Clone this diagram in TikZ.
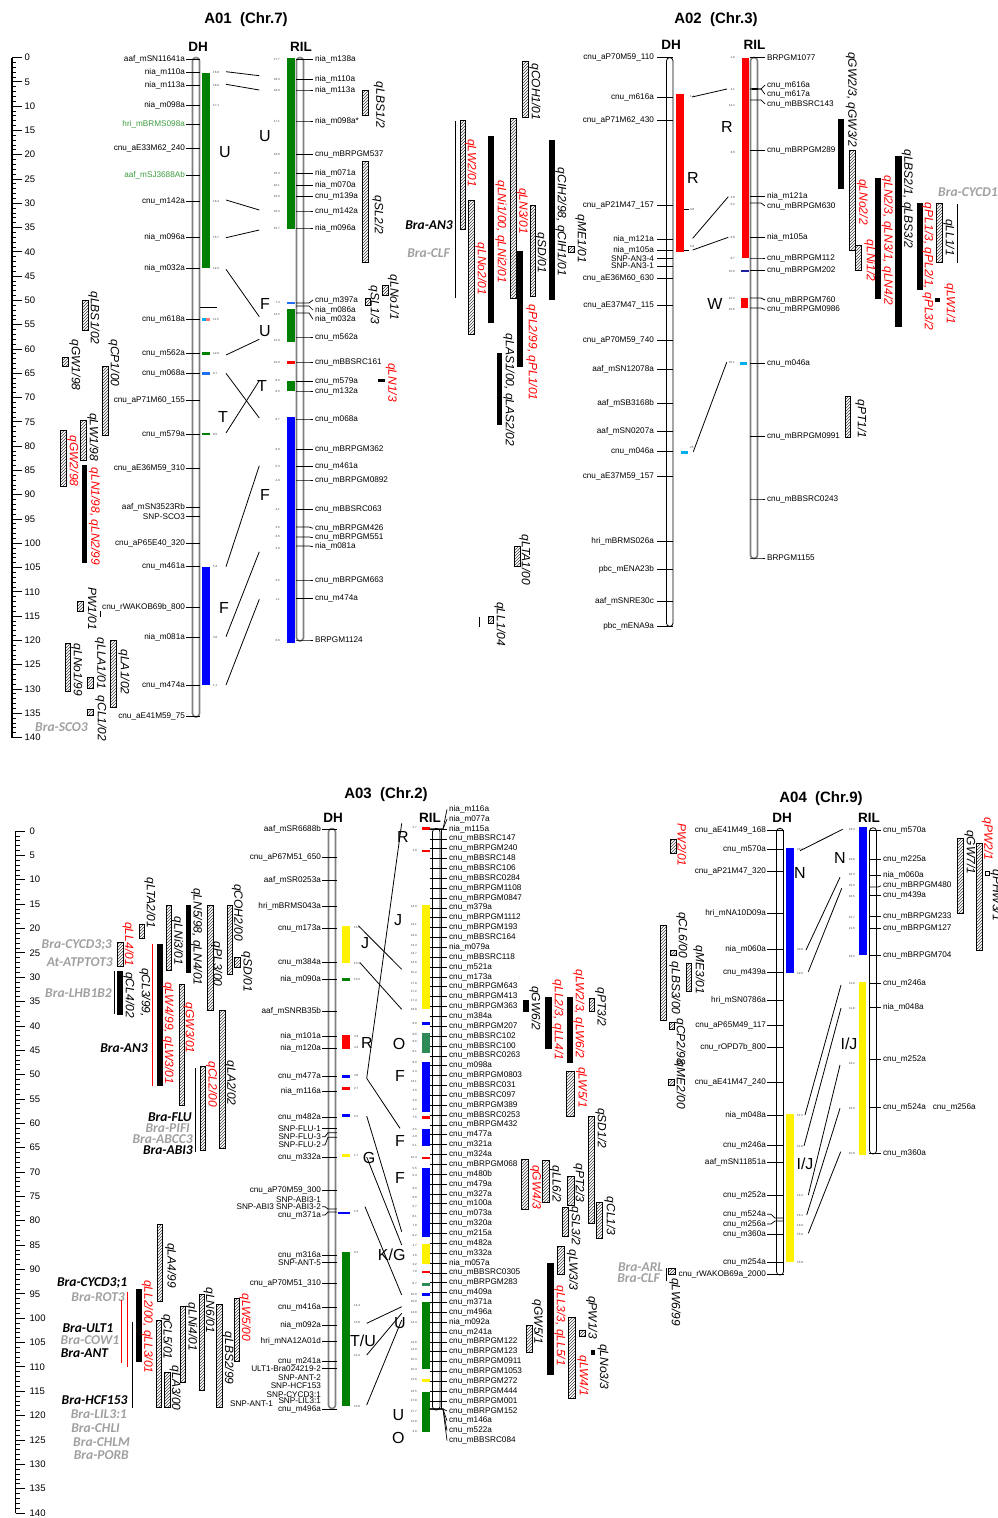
\documentclass[tikz,border=0pt]{standalone}
\usepackage{fontspec}
\setmainfont{Liberation Sans}
\newfontfamily\genefont{Carlito}
\usetikzlibrary{patterns}
\definecolor{mgreen}{RGB}{0,128,0}
\definecolor{lgreen}{RGB}{60,155,60}
\definecolor{sgreen}{RGB}{46,139,87}
\definecolor{lblue}{RGB}{30,110,240}
\definecolor{dblue}{RGB}{30,30,160}
\definecolor{ggray}{RGB}{160,160,160}
\definecolor{lpink}{RGB}{255,120,120}
\begin{document}
\begin{tikzpicture}[x=1pt, y=-1pt,
  mk/.style={font=\fontsize{8.2}{9}\selectfont, inner sep=0.4pt},
  mkl/.style={mk, anchor=east}, mkr/.style={mk, anchor=west},
  num/.style={font=\fontsize{3}{3}\selectfont, inner sep=0pt, text=black!75},
  ttl/.style={font=\fontsize{15}{17}\selectfont\bfseries},
  pop/.style={font=\fontsize{13.5}{15}\selectfont\bfseries},
  reg/.style={font=\fontsize{16}{18}\selectfont},
  sc/.style={font=\fontsize{9.5}{10}\selectfont, anchor=west, inner sep=0pt},
  ql/.style={font=\fontsize{12}{13}\selectfont\itshape, rotate=-90, inner sep=0pt},
  qr/.style={ql, text=red},
  gn/.style={font=\genefont\fontsize{13.5}{14}\selectfont\bfseries\itshape, anchor=east, inner sep=0pt},
  gg/.style={gn, text=ggray},
  hb/.style={draw, line width=0.9pt, pattern=north east lines, pattern color=black!75},
  chr/.style={draw=gray, line width=1.6pt, fill=white, rounded corners=3.4pt},
  chk/.style={draw, line width=0.8pt, fill=white, rounded corners=3.4pt},
  cn/.style={line width=0.8pt},
  tk/.style={line width=0.7pt}]
\useasboundingbox (0,0) rectangle (998,1518);

% scales
\draw[line width=1.2pt] (12,57.5) -- (12,737.5);
\foreach \i in {0,...,140} \draw[tk] (12,57.5+4.857*\i) -- (16,57.5+4.857*\i);
\foreach \i in {0,5,...,140} {\draw[tk] (12,57.5+4.857*\i) -- (21.5,57.5+4.857*\i); \node[sc] (s1\i) at (24.5,57.5+4.857*\i) {\i};}
\draw[line width=1.2pt] (15.5,831) -- (15.5,1513);
\foreach \i in {0,...,140} \draw[tk] (15.5,831+4.871*\i) -- (19.5,831+4.871*\i);
\foreach \i in {0,5,...,140} {\draw[tk] (15.5,831+4.871*\i) -- (25,831+4.871*\i); \node[sc] (s3\i) at (29.5,831+4.871*\i) {\i};}

% ---------------- A01
\node[ttl] (t1) at (246,20) {A01\ \ (Chr.7)};
\node[pop] (dh1) at (198,47) {DH}; \node[pop] (ril1) at (301,47) {RIL};
\draw[chr] (192.5,57.5) rectangle (199.5,717);
\draw[chr] (296.5,57.5) rectangle (303.5,641);
\fill[mgreen] (202,72.7) rectangle (210,268);
\fill[cyan] (202,318.3) rectangle (206,320.5); \fill[lpink] (206,318.3) rectangle (210,320.5);
\fill[mgreen] (202,352) rectangle (210,354.5); \fill[lblue] (202,372) rectangle (210,374.5);
\fill[mgreen] (202,432.8) rectangle (210,435.3); \fill[blue] (202,566.7) rectangle (210,685);
\fill[mgreen] (287,58) rectangle (295,228.5); \fill[lblue] (287,301.5) rectangle (295,304);
\fill[mgreen] (287,309) rectangle (295,341.5); \fill[red] (287,361) rectangle (295,363.5);
\fill[mgreen] (287,380.5) rectangle (295,390.5); \fill[blue] (287,417) rectangle (295,642.5);
\foreach \y/\t [count=\i] in {59.3/aaf\_mSN11641a, 72.7/nia\_m110a, 85/nia\_m113a, 105/nia\_m098a, 148.3/cnu\_aE33M62\_240, 201.3/cnu\_m142a, 237/nia\_m096a, 268/nia\_m032a, 319.3/cnu\_m618a, 353.3/cnu\_m562a, 373.3/cnu\_m068a, 400/cnu\_aP71M60\_155, 434/cnu\_m579a, 468.3/cnu\_aE36M59\_310, 507.3/aaf\_mSN3523Rb, 516.7/SNP-SCO3, 543.3/cnu\_aP65E40\_320, 566.7/cnu\_m461a, 607.3/cnu\_rWAKOB69b\_800, 637.3/nia\_m081a, 685/cnu\_m474a, 716/cnu\_aE41M59\_75}
  {\node[mkl] (a1d\i) at (185.5,\y) {\t}; \draw[tk] (186,\y) -- (200,\y);}
\node[mkl, text=lgreen] (a1g1) at (185.5,124) {hri\_mBRMS098a}; \draw[tk] (186,124) -- (200,124);
\node[mkl, text=lgreen] (a1g2) at (185.5,175) {aaf\_mSJ3688Ab}; \draw[tk] (186,175) -- (200,175);
\draw[tk] (200,307.3) -- (216.7,307.3);
\foreach \b/\y/\t [count=\i] in {59.3/59.3/nia\_m138a, 79.3/79.3/nia\_m110a, 90/90/nia\_m113a, 121/121/nia\_m098a*, 154.7/154.7/cnu\_mBRPGM537, 173.3/173.3/nia\_m071a, 185.3/185.3/nia\_m070a, 196.7/196.7/cnu\_m139a, 211/211/cnu\_m142a, 228/228/nia\_m096a, 303/300/cnu\_m397a, 306/310/nia\_m086a, 313/319.3/nia\_m032a, 337/337/cnu\_m562a, 362/362/cnu\_mBBSRC161, 381.7/381.7/cnu\_m579a, 391/391/cnu\_m132a, 419/419/cnu\_m068a, 449.3/449.3/cnu\_mBRPGM362, 466.7/466.7/cnu\_m461a, 480/480/cnu\_mBRPGM0892, 509.3/509.3/cnu\_mBBSRC063, 527/528.3/cnu\_mBRPGM426, 537/537.7/cnu\_mBRPGM551, 546/546.7/nia\_m081a, 580/580/cnu\_mBRPGM663, 598.3/598.3/cnu\_m474a, 640/640/BRPGM1124}
  {\draw[tk] (296,\b) -- (309,\b) -- (313,\y); \node[mkr] (a1r\i) at (314.5,\y) {\t};}
\foreach \y/\n in {72.7/16.8, 85/18.9, 105/17.1, 201.3/16.3, 237/15.7, 268/12.5, 319.3/11.5, 353.3/12.9, 373.3/8.7, 434/8.5, 566.7/5.3, 637.3/3.0, 685/1.1}
  \node[num, anchor=west] at (213,\y) {\n};
\node[num] at (206,171) {4};
\foreach \y/\n in {59.3/17.7, 79.3/18.0, 90/18.9, 121/17.1, 154.7/16.8, 173.3/16.4, 185.3/16.1, 196.7/16.0, 211/16.3, 228/15.7, 302.7/7.4, 314/12.5, 340/12.9, 362/22.9, 380/8.6, 391/8.5, 419/8.7, 449.3/6.0, 466.7/5.3, 480/4.9, 509.3/4.1, 527.3/3.6, 536.7/3.6, 548.3/3.0, 580/2.5, 599/1.1, 640/0.8}
  \node[num, anchor=east] at (280,\y) {\n};
\node[reg] at (225,152) {U}; \node[reg] at (223,417) {T}; \node[reg] at (224,608) {F};
\node[reg] at (265,136) {U}; \node[reg] at (265,304) {F}; \node[reg] at (265,331) {U};
\node[reg] at (262,386) {T}; \node[reg] at (265,495) {F};
\foreach \a/\b in {71.7/75.7, 84.3/90, 200/210, 237.7/230, 269.3/316.7, 355/339.3, 373.3/418, 433/380.7, 566.7/465.7, 636.7/551.7, 685/599.3}
  \draw[cn] (226,\a) -- (259.3,\b);
% A01 QTL, left
\draw[hb] (82,300) rectangle (88,330); \node[ql] at (94,318) {qLBS1/02};
\draw[hb] (62.5,357) rectangle (68.5,366); \node[ql] at (75,365) {qGW1/98};
\draw[hb] (102,366) rectangle (108,435); \node[ql] at (114,363) {qCP1/00};
\draw[hb] (80.7,420.7) rectangle (86.7,460); \node[ql] at (93,437) {qLW1/98};
\draw[hb] (60.7,430) rectangle (66.7,486); \node[qr] at (73,461) {qGW2/98};
\fill (81.7,465) rectangle (87.3,562.7); \node[qr] at (94.5,516.5) {qLN1/98, qLN2/99};
\draw[hb] (77.3,601) rectangle (83.3,611.7); \node[ql] at (92.5,608.5) {PW1/01};
\draw[tk] (100,611) -- (100,617);
\draw[hb] (65,643) rectangle (70.7,691.7); \node[ql] at (77,670) {qLNo1/99};
\draw[hb] (87.3,677) rectangle (93.3,688); \node[ql] at (100.5,663.5) {qLLA1/01};
\draw[hb] (110.7,640.7) rectangle (116.7,707); \node[ql] at (124,672) {qLA1/02};
\draw[hb] (87.3,709) rectangle (93,715); \node[ql] at (101,718.5) {qCL1/02};
\node[gg] (sco3) at (88,726.7) {Bra-SCO3};
% A01 QTL, right
\draw[hb] (362.7,90) rectangle (368.3,115); \node[ql] at (379.5,105) {qLBS1/2};
\draw[hb] (362.7,161) rectangle (368.3,262); \node[ql] at (378,215) {qSL2/2};
\draw[hb] (382.7,285) rectangle (388.3,295.7); \node[ql] at (393.5,297.5) {qLNo1/1};
\draw[hb] (365,298) rectangle (370.7,305); \node[ql] at (374,305) {qSL1/3};
\fill (378,379.3) rectangle (385,382); \node[qr] at (391.5,382.5) {qLN1/3};
\node[gn] (an3a) at (453,225) {Bra-AN3}; \node[gg] (clfa) at (450,253) {Bra-CLF};
\draw[line width=1pt] (455.7,120.7) -- (455.7,298.3);
\draw[hb] (460,120.7) rectangle (465.7,229); \node[qr] at (471,163) {qLW2/01};
\draw[hb] (468.3,200) rectangle (474,334); \node[qr] at (481,269) {qLNo2/01};
\fill (488.3,136) rectangle (494.3,323.3); \node[qr] at (501,231.7) {qLNi1/00, qLNi2/01};
\draw[hb] (510.7,118.3) rectangle (516,298.7); \node[qr] at (522.5,211) {qLN3/01};
\draw[hb] (522.7,61.7) rectangle (528.3,117.3); \node[ql] at (535,91.7) {qCOH1/01};
\fill (517.3,250.7) rectangle (522.7,367.3); \node[qr] at (532,352.5) {qPL2/99, qPL1/01};
\draw[hb] (530,205.7) rectangle (535.3,296.7); \node[ql] at (541,253) {qSD/01};
\fill (549,140) rectangle (555,300); \node[ql] at (561,221.7) {qCIH2/98, qCIH1/01};
\draw[hb] (568.3,246) rectangle (574,252.7); \node[ql] at (581,239) {qME1/01};
\fill (496.7,352.7) rectangle (502.3,425); \node[ql] at (509,390) {qLAS1/00, qLAS2/02};
\draw[hb] (514,546.7) rectangle (520,566.7); \node[ql] at (525,560) {qLTA1/00};
\draw[hb] (488.3,616.7) rectangle (493.3,623.3); \node[ql] at (500,624) {qLL1/04};
\draw[line width=1pt] (479.3,616.7) -- (479.3,626.7);

% ---------------- A02
\node[ttl] (t2) at (716,20) {A02\ \ (Chr.3)};
\node[pop] (dh2) at (671,45) {DH}; \node[pop] (ril2) at (754.5,45) {RIL};
\draw[chk] (666.5,57.5) rectangle (673,626.5);
\draw[chr] (750.5,57.5) rectangle (757.5,558.5);
\fill[red] (676,94.3) rectangle (684,251.7); \fill[cyan] (680.5,450.5) rectangle (688,453.5);
\fill[red] (741.5,57.5) rectangle (749,258.3); \fill[red] (740.5,298.3) rectangle (748,308.3);
\fill[dblue] (741,269.5) rectangle (749,272); \fill[cyan] (740,362) rectangle (747,365);
\fill (752,88) rectangle (758,90.3);
\foreach \y/\t [count=\i] in {57.7/cnu\_aP70M59\_110, 97.7/cnu\_m616a, 120/cnu\_aP71M62\_430, 205/cnu\_aP21M47\_157, 239.3/nia\_m121a, 250.3/nia\_m105a, 258.3/SNP-AN3-4, 266/SNP-AN3-1, 278.3/cnu\_aE36M60\_630, 305/cnu\_aE37M47\_115, 340.7/cnu\_aP70M59\_740, 369.3/aaf\_mSN12078a, 403.3/aaf\_mSB3168b, 431/aaf\_mSN0207a, 451/cnu\_m046a, 476.7/cnu\_aE37M59\_157, 541.7/hri\_mBRMS026a, 569.3/pbc\_mENA23b, 601.7/aaf\_mSNRE30c, 626/pbc\_mENA9a}
  {\node[mkl] (a2d\i) at (654.5,\y) {\t}; \draw[tk] (657,\y) -- (673,\y);}
\foreach \b/\y/\t [count=\i] in {57.7/57.7/BRPGM1077, 89/85/cnu\_m616a, 89/94.3/cnu\_m617a, 100/104/cnu\_mBBSRC143, 150.7/150.7/cnu\_mBRPGM289, 196.7/196.7/nia\_m121a, 203/206/cnu\_mBRPGM630, 237.3/237.3/nia\_m105a, 258/258/cnu\_mBRPGM112, 270.7/270.7/cnu\_mBRPGM202, 298/300/cnu\_mBRPGM760, 308/309.3/cnu\_mBRPGM0986, 363.7/363.7/cnu\_m046a, 436.7/436.7/cnu\_mBRPGM0991, 499/499/cnu\_mBBSRC0243, 558/558/BRPGM1155}
  {\draw[tk] (750,\b) -- (761,\b) -- (765,\y); \node[mkr] (a2r\i) at (766.5,\y) {\t};}
\foreach \y/\n in {96/1.1, 209/4.8, 246/5.9, 447/25}
  \node[num, anchor=west] at (690,\y) {\n};
\draw[tk] (684,209) -- (689,209); \draw[tk] (684,250) -- (689,250);
\foreach \y/\n in {57.7/1.9, 89/1.1, 105/14.2, 152/3.6, 197/4.8, 204/5.2, 237/6.8, 258/6.7, 271/15.6, 298/22.3, 309/22.6, 362.5/25.1}
  \node[num, anchor=east] at (735,\y) {\n};
\node[reg] at (693,178) {R}; \node[reg] at (727,127) {R}; \node[reg] at (715,304) {W};
\draw[cn] (692,97) -- (727,89); \draw[cn] (692.7,238.3) -- (728.3,196.7);
\draw[cn] (692.7,250) -- (728.3,237.3); \draw[cn] (693.3,451.7) -- (726.7,362.3);
% A02 QTL
\fill (838.3,119) rectangle (844.3,189.3); \node[ql] at (851.5,99.5) {qGW2/3, qGW3/2};
\draw[hb] (849.3,150.7) rectangle (855,250); \node[qr] at (862.5,202) {qLNo2/2};
\draw[hb] (855.7,245) rectangle (861.7,270.7); \node[qr] at (870,260.5) {qLNi1/2};
\fill (875,177.7) rectangle (881,299.3); \node[qr] at (887.5,240.5) {qLN2/3, qLN3/1, qLN4/2};
\fill (895,155.7) rectangle (901.7,326.7); \node[ql] at (907.5,199) {qLBS2/1, qLBS3/2};
\fill (916.7,202.7) rectangle (922.7,290); \node[qr] at (928,266.7) {qPL1/3, qPL2/1, qPL3/2};
\draw[hb] (936.7,203.3) rectangle (942.7,262.3); \node[ql] at (949,237.5) {qLL1/1};
\draw[line width=1pt] (957.3,204) -- (957.3,263.3);
\fill (935,298) rectangle (940,301.7); \node[qr] at (950,304) {qLW1/1};
\node[gg, anchor=west] (cycd1) at (938,192.3) {Bra-CYCD1};
\draw[hb] (845,396.7) rectangle (850.7,437.3); \node[ql] at (861,419) {qPT1/1};

% ---------------- A03
\node[ttl] (t3) at (386,795) {A03\ \ (Chr.2)};
\node[pop] (dh3) at (333,818) {DH}; \node[pop] (ril3) at (430,818) {RIL};
\draw[chr] (328.5,828.5) rectangle (335.5,1408.5);
\draw[chk] (432.5,828.5) rectangle (440,1410);
\fill[yellow] (342,926) rectangle (350,962.7); \fill[mgreen] (342,978) rectangle (350,980.5);
\fill[red] (342,1035) rectangle (350,1049.3); \fill[blue] (342,1075) rectangle (350,1077.5);
\fill[red] (342,1087) rectangle (350,1089.5); \fill[blue] (342,1114) rectangle (350,1116.5);
\fill[yellow] (342,1154) rectangle (350,1156.5); \fill[blue] (338,1211.5) rectangle (350,1214);
\fill[mgreen] (342,1251.7) rectangle (350,1406);
\fill[red] (422,827) rectangle (429.5,829.5); \fill[red] (422,849.5) rectangle (429.5,852);
\fill[yellow] (422,905) rectangle (429.5,1009.3); \fill[blue] (422,1022) rectangle (429.5,1024.5);
\fill[sgreen] (422,1033.3) rectangle (429.5,1053.3); \fill[blue] (422,1061.7) rectangle (429.5,1111.7);
\fill[red] (422,1116) rectangle (429.5,1118.5); \fill[blue] (422,1129.3) rectangle (429.5,1146);
\fill[red] (422,1156.5) rectangle (429.5,1159); \fill[blue] (422,1168.3) rectangle (429.5,1236.7);
\fill[yellow] (422,1244) rectangle (429.5,1264.3); \fill[red] (422,1270.5) rectangle (429.5,1273);
\fill[sgreen] (422,1283) rectangle (429.5,1285.5); \fill[blue] (422,1293) rectangle (429.5,1295.5);
\fill[mgreen] (422,1301.7) rectangle (429.5,1369.3); \fill[yellow] (422,1379) rectangle (429.5,1381.5);
\fill[mgreen] (422,1391.7) rectangle (429.5,1431.7);
\foreach \b/\y/\t [count=\i] in {829.3/829.3/aaf\_mSR6688b, 857.7/857.7/cnu\_aP67M51\_650, 880.7/880.7/aaf\_mSR0253a, 906.7/906.7/hri\_mBRMS043a, 928.3/928.3/cnu\_m173a, 962.7/962.7/cnu\_m384a, 979/979/nia\_m090a, 1011.7/1011.7/aaf\_mSNRB35b, 1036.7/1036.7/nia\_m101a, 1048.3/1048.3/nia\_m120a, 1076/1076/cnu\_m477a, 1091.7/1091.7/nia\_m116a, 1117.3/1117.3/cnu\_m482a, 1128.3/1128.3/SNP-FLU-1, 1132.7/1136.7/SNP-FLU-3, 1137.3/1145/SNP-FLU-2, 1157.7/1157.7/cnu\_m332a, 1190.7/1190.7/cnu\_aP70M59\_300, 1209/1206.7/SNP-ABI3 SNP-ABI3-2, 1212/1215/cnu\_m371a, 1255/1255/cnu\_m316a, 1262.7/1262.7/SNP-ANT-5, 1283.3/1283.3/cnu\_aP70M51\_310, 1307.3/1307.3/cnu\_m416a, 1325.3/1325.3/nia\_m092a, 1341.7/1341.7/hri\_mNA12A01d, 1361.7/1361.7/cnu\_m241a, 1368.3/1368.3/ULT1-Bra024219-2, 1409.3/1409.3/cnu\_m496a}
  {\node[mkl] (a3d\i) at (321.5,\y) {\t}; \draw[tk] (322,\y) -- (325,\y) -- (328,\b) -- (337,\b);}
\foreach \y/\t [count=\i] in {1199.3/SNP-ABI3-1, 1377.3/SNP-ANT-2, 1386/SNP-HCF153, 1394.3/SNP-CYCD3:1, 1400.5/SNP-LIL3:1}
  \node[mkl] (a3s\i) at (321.5,\y) {\t};
\node[mkl] (a3s6) at (273.5,1403.5) {SNP-ANT-1};
\foreach \t [count=\i from 0] in {nia\_m116a, nia\_m077a, nia\_m115a, cnu\_mBBSRC147, cnu\_mBRPGM240, cnu\_mBBSRC148, cnu\_mBBSRC106, cnu\_mBBSRC0284, cnu\_mBRPGM1108, cnu\_mBRPGM0847, cnu\_m379a, cnu\_mBRPGM1112, cnu\_mBRPGM193, cnu\_mBBSRC164, nia\_m079a, cnu\_mBBSRC118, cnu\_m521a, cnu\_m173a, cnu\_mBRPGM643, cnu\_mBRPGM413, cnu\_mBRPGM363, cnu\_m384a, cnu\_mBRPGM207, cnu\_mBBSRC102, cnu\_mBBSRC100, cnu\_mBBSRC0263, cnu\_m098a, cnu\_mBRPGM0803, cnu\_mBBSRC031, cnu\_mBBSRC097, cnu\_mBRPGM389, cnu\_mBBSRC0253, cnu\_mBRPGM432, cnu\_m477a, cnu\_m321a, cnu\_m324a, cnu\_mBRPGM068, cnu\_m480b, cnu\_m479a, cnu\_m327a, cnu\_m100a, cnu\_m073a, cnu\_m320a, cnu\_m215a, cnu\_m482a, cnu\_m332a, nia\_m057a, cnu\_mBBSRC0305, cnu\_mBRPGM283, cnu\_m409a, cnu\_m371a, cnu\_m496a, nia\_m092a, cnu\_m241a, cnu\_mBRPGM122, cnu\_mBRPGM123, cnu\_mBRPGM0911, cnu\_mBRPGM1053, cnu\_mBRPGM272, cnu\_mBRPGM444, cnu\_mBRPGM001, cnu\_mBRPGM152, cnu\_m146a, cnu\_m522a, cnu\_mBBSRC084}
  {\pgfmathsetmacro\ly{809.3+\i*9.863} \pgfmathsetmacro\by{min(1409,max(829,\ly))}
   \draw[tk] (429.5,\by) -- (443,\by) -- (447,\ly); \node[mkr] (a3r\i) at (448.5,\ly) {\t};}
\draw[line width=1.2pt] (441.2,829) -- (441.2,1409);
\foreach \y/\n in {927/13.3, 963/10.3, 979/13.3, 1036/4.3, 1047/4.2, 1075/4.8, 1088/2.7, 1116/5.2, 1155/1.7, 1211/1.6, 1252/9.1, 1305/14.4, 1322/13.9, 1355/14.4, 1406/15.8}
  \node[num, anchor=west] at (354,\y) {\n};
\foreach \y/\n in {827.7/2.7, 850.7/1.9, 906.7/13.0, 924.3/14.1, 935.3/14.0, 945/13.3, 953.3/13.7, 962.7/13.6, 972.7/15.2, 983.3/17.9, 991.7/17.2, 1000/17.4, 1009.3/16.8, 1023.3/8.9, 1034/8.6, 1041.7/9.6, 1051.7/6.1, 1062.7/9.0, 1071/2.3, 1081/13.1, 1090/3.6, 1100/2.8, 1109.3/3.2, 1117.3/7.5, 1129/4.5, 1136.7/4.9, 1145/5.1, 1157.7/12.4, 1168.3/5.5, 1175/5.4, 1188.3/6.9, 1197.7/6.8, 1206/5.7, 1216.7/8.1, 1225/7.8, 1235.7/8.2, 1245/1.7, 1255.7/1.6, 1264.3/3.2, 1271.7/7.8, 1283.3/8.7, 1294.3/10.0, 1301.7/15.8, 1312.3/14.8, 1322.7/14.4, 1342.7/14.8, 1349.3/14.9, 1359.3/15.3, 1369.3/15.3, 1379.3/11.6, 1391.7/16.5, 1400/17.8, 1411.7/17.7, 1421.7/12.8, 1431.7/3.0}
  \node[num, anchor=east] at (417,\y) {\n};
\node[reg] at (365,943) {J}; \node[reg] at (367,1043) {R}; \node[reg] at (369,1158) {G}; \node[reg] at (363,1341) {T/U};
\node[reg] at (403,837) {R}; \node[reg] at (398,920) {J}; \node[reg] at (399,1044) {O}; \node[reg] at (400,1076) {F};
\node[reg] at (400,1141) {F}; \node[reg] at (400,1178) {F}; \node[reg] at (391.7,1255) {K/G}; \node[reg] at (400,1323) {U};
\node[reg] at (398.3,1415) {U}; \node[reg] at (398.3,1438.3) {O};
\foreach \a/\b/\c/\d in {366.7/1078.3/401.7/823.3, 366.7/1078.3/400/1128.3, 358.3/925.7/401.7/969.3, 360/962.7/401.7/1009.3, 366.7/1116/401.7/1231.7, 366.7/1157/401.7/1245, 365/1206.7/401.7/1295, 366.7/1323.3/401.7/1306.7, 366.7/1355/401.7/1313.3, 366.7/1405/401.7/1320}
  \draw[cn] (\a,\b) -- (\c,\d);
% A03 QTL, left
\draw[hb] (139.3,924) rectangle (144.3,938.3); \node[ql] at (150,903) {qLTA2/01};
\draw[hb] (117.7,942.3) rectangle (123.3,966); \node[qr] at (128.3,944) {qLL4/01};
\node[gg] (cyc33) at (112,945) {Bra-CYCD3;3}; \node[gg] (atp) at (113,961.7) {At-ATPTOT3};
\node[gg] (lhb) at (112,992.7) {Bra-LHB1B2};
\draw[line width=1pt] (114,970.7) -- (114,1014);
\fill (117.3,970.7) rectangle (123.3,1015); \node[ql] at (129,995) {qCL4/02};
\node[ql] at (145,992.5) {qCL3/99,};
\draw[red, line width=1pt] (152.7,944) -- (152.7,1086);
\fill (157.3,944) rectangle (162.7,1086); \node[qr] at (168.3,1033) {qLW4/99, qLW3/01};
\node[gn] (an3b) at (148,1048.3) {Bra-AN3};
\draw[hb] (166,905.7) rectangle (171.7,970); \node[ql] at (177.5,941) {qLNi3/01};
\fill (185.7,905) rectangle (191,973.3); \node[ql] at (196.7,936.7) {qLN5/98, qLN4/01};
\draw[hb] (179,984) rectangle (184.3,1105); \node[qr] at (189,1028) {qGW3/01};
\draw[hb] (207.7,905) rectangle (213.3,1010); \node[ql] at (216.7,964) {qPL3/00};
\draw[hb] (227.7,905.7) rectangle (232.7,974); \node[ql] at (237.5,912.5) {qCOH2/00};
\draw[hb] (234.3,957.7) rectangle (240,967.7); \node[ql] at (246.7,971.7) {qSD/01};
\draw[hb] (219.3,1010.7) rectangle (225,1148.3); \node[ql] at (230.5,1083.3) {qLA2/02};
\draw[line width=1pt] (195.7,1068.3) -- (195.7,1151.7);
\draw[hb] (200,1066) rectangle (205.7,1150); \node[qr] at (211.7,1084) {qCL2/00};
\node[gn] (flu) at (192,1116.7) {Bra-FLU}; \node[gg] (pifi) at (190,1128.3) {Bra-PIFI};
\node[gg] (abcc) at (193,1139.3) {Bra-ABCC3}; \node[gn] (abi3) at (193,1150) {Bra-ABI3};
\draw[hb] (157.3,1224) rectangle (162.7,1301.7); \node[ql] at (170.8,1265.5) {qLA4/99};
\node[gn] (cyc31) at (127.3,1282.7) {Bra-CYCD3;1}; \node[gg] (rot3) at (125,1296.7) {Bra-ROT3};
\draw[red, line width=1pt] (121,1300) -- (121,1362.7); \draw[red, line width=1pt] (127.3,1291.7) -- (127.3,1366.7);
\fill (136,1289.3) rectangle (141.7,1361.7); \node[qr] at (147.5,1326.7) {qLL2/00, qLL3/01};
\draw[line width=1pt] (132.3,1321.7) -- (132.3,1407.7);
\node[gn] (ult1) at (113.3,1327.7) {Bra-ULT1}; \node[gg] (cow1) at (119.3,1340) {Bra-COW1};
\node[gn] (ant) at (108.3,1352.7) {Bra-ANT}; \node[gn] (hcf) at (127.7,1400) {Bra-HCF153};
\node[gg] (lil3) at (127,1414.3) {Bra-LIL3:1}; \node[gg] (chli) at (120,1428.3) {Bra-CHLI};
\node[gg] (chlm) at (130,1441.7) {Bra-CHLM}; \node[gg] (porb) at (129,1455) {Bra-PORB};
\draw[hb] (156,1320) rectangle (161,1407.7); \node[ql] at (166.7,1336.7) {qCL5/01};
\draw[hb] (164.3,1372.3) rectangle (170,1407.7); \node[ql] at (175.3,1388.3) {qLA3/00};
\draw[hb] (180,1306.7) rectangle (185.7,1382.7); \node[ql] at (191.7,1326.7) {qLNi4/01};
\draw[hb] (199,1294) rectangle (204.3,1390); \node[ql] at (209.2,1310) {qLN6/01};
\draw[hb] (216.7,1304) rectangle (222.3,1407.7); \node[ql] at (228.3,1358.3) {qLBS2/99};
\draw[hb] (234.3,1298.3) rectangle (239.3,1361.7); \node[qr] at (245.3,1317.5) {qLW5/00};
% A03 QTL, right
\fill (522.7,1000) rectangle (529.3,1012.3); \node[ql] at (535,1008.3) {qGW6/2};
\fill (545,996.7) rectangle (551.7,1049.3); \node[qr] at (558,1020) {qLL2/3, qLL4/1};
\fill (566.7,996.7) rectangle (573.3,1063.3); \node[qr] at (579,1014) {qLW2/3, qLW6/2};
\draw[hb] (589,998.3) rectangle (594.3,1011.7); \node[ql] at (600.8,1006.7) {qPT3/2};
\draw[hb] (566.7,1071.7) rectangle (574,1116.7); \node[qr] at (581.7,1087.5) {qLW5/1};
\draw[hb] (588.3,1116) rectangle (594,1223.3); \node[ql] at (601,1128) {qSD1/2};
\draw[hb] (596.7,1202.7) rectangle (602.7,1238.3); \node[ql] at (610,1216.3) {qCL1/3};
\draw[hb] (521.7,1159.3) rectangle (528.3,1209.3); \node[qr] at (535.8,1187) {qGW4/3};
\draw[hb] (542.7,1160) rectangle (549.3,1202.7); \node[ql] at (555.8,1184) {qLL6/2};
\draw[hb] (567.7,1176) rectangle (574,1205); \node[ql] at (579,1183.3) {qPT2/3};
\draw[hb] (562.3,1207.3) rectangle (568.3,1236.7); \node[ql] at (575,1226) {qSL3/2};
\draw[hb] (557.7,1246.7) rectangle (564,1274.3); \node[ql] at (572.5,1270) {qLW3/3};
\fill (546.7,1263.3) rectangle (554,1375); \node[qr] at (560,1325.8) {qLL3/3, qLL5/1};
\draw[hb] (526,1325) rectangle (532.3,1352.7); \node[ql] at (537.5,1321.7) {qGW5/1};
\draw[hb] (579.3,1330) rectangle (585,1336); \node[ql] at (591.7,1317.5) {qPW1/3};
\draw[hb] (568.3,1317.3) rectangle (575,1398.3); \node[qr] at (583,1375.8) {qLW4/1};
\fill (591,1350) rectangle (595,1355); \node[ql] at (603.3,1366.7) {qLNo3/3};

% ---------------- A04
\node[ttl] (t4) at (821,799) {A04\ \ (Chr.9)};
\node[pop] (dh4) at (782,818) {DH}; \node[pop] (ril4) at (869,818) {RIL};
\draw[chk] (776.5,828.3) rectangle (783.5,1275);
\draw[chk] (869.5,827.7) rectangle (876.5,1154);
\fill[blue] (786,848.3) rectangle (793.5,973.3); \fill[yellow] (786,1114) rectangle (793.5,1261.7);
\fill[blue] (859.3,827.3) rectangle (866.7,955); \fill[yellow] (858.5,982.3) rectangle (866,1155);
\foreach \b/\y/\t [count=\i] in {830/830/cnu\_aE41M49\_168, 849/849/cnu\_m570a, 871/871/cnu\_aP21M47\_320, 913.3/913.3/hri\_mNA10D09a, 949.3/949.3/nia\_m060a, 972.7/972.7/cnu\_m439a, 1000/1000/hri\_mSN0786a, 1025/1025/cnu\_aP65M49\_117, 1047.7/1047.7/cnu\_rOPD7b\_800, 1082.7/1082.7/cnu\_aE41M47\_240, 1115/1115/nia\_m048a, 1145/1145/cnu\_m246a, 1162.7/1162.7/aaf\_mSN11851a, 1195/1195/cnu\_m252a, 1218/1214.3/cnu\_m524a, 1221/1224/cnu\_m256a, 1234/1234/cnu\_m360a, 1262.3/1262.3/cnu\_m254a, 1274/1274/cnu\_rWAKOB69a\_2000}
  {\node[mkl] (a4d\i) at (766.5,\y) {\t}; \draw[tk] (767,\y) -- (771,\y) -- (775,\b) -- (784,\b);}
\foreach \b/\y/\t [count=\i] in {830.7/830.7/cnu\_m570a, 859.3/859.3/cnu\_m225a, 875/875/nia\_m060a, 887/885.7/cnu\_mBRPGM480, 895/895/cnu\_m439a, 916.7/916.7/cnu\_mBRPGM233, 928.3/928.3/cnu\_mBRPGM127, 955/955/cnu\_mBRPGM704, 983.3/983.3/cnu\_m246a, 1007.7/1007.7/nia\_m048a, 1059.3/1059.3/cnu\_m252a, 1107.7/1107.7/cnu\_m524a\ \ \ cnu\_m256a, 1153.3/1153.3/cnu\_m360a}
  {\draw[tk] (869,\b) -- (878,\b) -- (881,\y); \node[mkr] (a4r\i) at (882.5,\y) {\t};}
\foreach \y/\n in {849/23.3, 949/20.0, 973/19.5, 1115/11.3, 1146/11.8, 1195/14.2, 1215/16.1, 1225/16.0, 1234/15.0, 1262/15.8}
  \node[num, anchor=west] at (797,\y) {\n};
\foreach \y/\n in {829/23.3, 859/19.8, 874/20.3, 885/19.9, 896/18.5, 917/21.7, 928/21.6, 956/19.5, 983/11.8, 1008/11.8, 1063/14.2, 1108/16.0, 1153/15.8}
  \node[num, anchor=east] at (855,\y) {\n};
\node[reg] at (800,872.7) {N}; \node[reg] at (805,1163.3) {I/J};
\node[reg] at (840,858.3) {N}; \node[reg] at (849,1044) {I/J};
\foreach \a/\b/\c/\d in {800/850.7/842.7/829.3, 806/950/840/877.3, 808.3/971.7/841.7/888.3, 805/1115/841/985, 804/1146/841/1008, 808.3/1195/840/1065, 806.7/1215/840/1108.3, 808.3/1233.3/840.7/1151.7}
  \draw[cn] (\a,\b) -- (\c,\d);
% A04 QTL
\draw[hb] (670.7,839.3) rectangle (676,853.3); \node[qr] at (682,845) {PW2/01};
\draw[hb] (660,925) rectangle (666,1020.7); \node[ql] at (682,935) {qCL6/00};
\draw[hb] (670.7,950) rectangle (676,955.7); \node[ql] at (675,988) {qLBS3/00};
\draw[hb] (686,963.3) rectangle (691.7,991.7); \node[ql] at (699,970) {qME3/01};
\draw[hb] (669,1022.3) rectangle (674,1029.3); \node[ql] at (680,1041.7) {qCP2/98};
\draw[hb] (668.3,1079.3) rectangle (674,1085); \node[ql] at (680,1085) {qME2/00};
\node[gg] (arl) at (663.3,1266.7) {Bra-ARL}; \node[gg] (clfb) at (660,1278.3) {Bra-CLF};
\draw[line width=1pt] (666.7,1268) -- (666.7,1281);
\draw[hb] (668.3,1268.3) rectangle (675,1274); \node[ql] at (675,1302) {qLW6/99};
\draw[hb] (957.7,838) rectangle (963.3,913); \node[ql] at (970,852) {qGW7/1};
\draw[hb] (976.7,843) rectangle (982.3,950); \node[qr] at (987.5,839) {qPW2/1};
\draw[line width=0.9pt] (985.5,871) rectangle (989.5,875); \node[ql] at (996,895) {qPHW3/1};
\end{tikzpicture}
\end{document}
